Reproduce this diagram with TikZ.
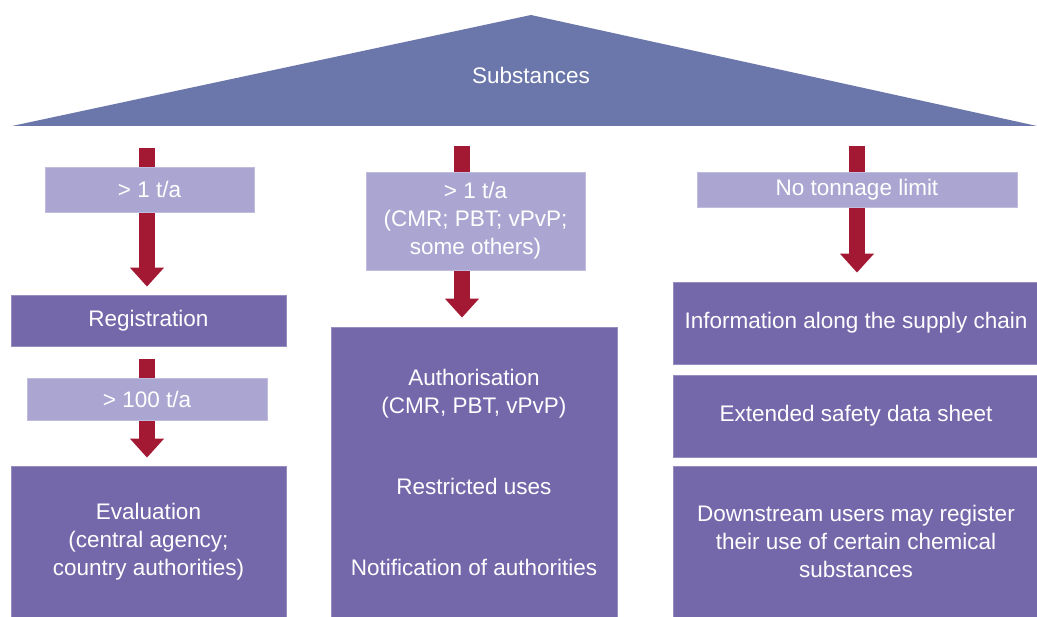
\documentclass[tikz,border=0pt]{standalone}
\usepackage{fontspec}
\setmainfont{Liberation Sans}
\usetikzlibrary{arrows.meta}
\definecolor{roofblue}{HTML}{6B77AA}
\definecolor{stagefill}{HTML}{7468AB}
\definecolor{limitfill}{HTML}{ABA6D1}
\definecolor{flowred}{HTML}{A31934}

\begin{document}
\begin{tikzpicture}[x=1pt,y=-1pt,
  every node/.style={text=white,font=\fontsize{22.5}{28}\selectfont,align=center,inner sep=0pt},
  stage/.style={fill=stagefill,draw=stagefill!75!white,line width=0.8pt},
  limit/.style={fill=limitfill,draw=limitfill!75!white,line width=0.8pt},
  flow/.style={draw=flowred,line width=16pt,-{Triangle[width=33pt,length=19pt]},shorten >=8pt}]

\useasboundingbox (0,0) rectangle (1037,617);

\fill[roofblue] (12,126) -- (531,15) -- (1037,126) -- cycle;
\node (subst) at (531,75) {Substances};

\node[stage,minimum width=275pt,minimum height=51pt] (reg) at (148.5,320.5) {Registration};
\node[stage,minimum width=275pt,minimum height=151pt] (eval) at (148.5,541.5) {Evaluation\\(central agency;\\country authorities)};
\node[stage,minimum width=286pt,minimum height=290pt] (auth) at (474,472) {Authorisation\\(CMR, PBT, vPvP)\\[53pt]Restricted uses\\[53pt]Notification of authorities};
\node[stage,minimum width=366pt,minimum height=82pt] (info) at (856,323) {Information along the supply chain};
\node[stage,minimum width=366pt,minimum height=82pt] (sds) at (856,416) {Extended safety data sheet};
\node[stage,minimum width=366pt,minimum height=151pt] (down) at (856,541.5) {Downstream users may register\\their use of certain chemical\\substances};

\coordinate (s1) at (147,148);
\coordinate (s2) at (147,359);
\coordinate (s3) at (462,146);
\coordinate (s4) at (857,146);

\draw[flow] (s1) -- (s1 |- reg.north);
\draw[flow] (s2) -- (s2 |- eval.north);
\draw[flow,shorten >=9pt] (s3) -- (s3 |- auth.north);
\draw[flow,shorten >=9pt] (s4) -- (s4 |- info.north);

\node[limit,minimum width=209pt,minimum height=45pt] (lim1) at (149.5,189.5) {> 1 t/a};
\node[limit,minimum width=240pt,minimum height=42pt] (lim100) at (147,399) {> 100 t/a};
\node[limit,minimum width=219pt,minimum height=98pt] (limcmr) at (475.5,221) {> 1 t/a\\(CMR; PBT; vPvP;\\some others)};
\node[limit,minimum width=320pt,minimum height=35pt] (limnone) at (857,189.5) {No tonnage limit};

\end{tikzpicture}
\end{document}
